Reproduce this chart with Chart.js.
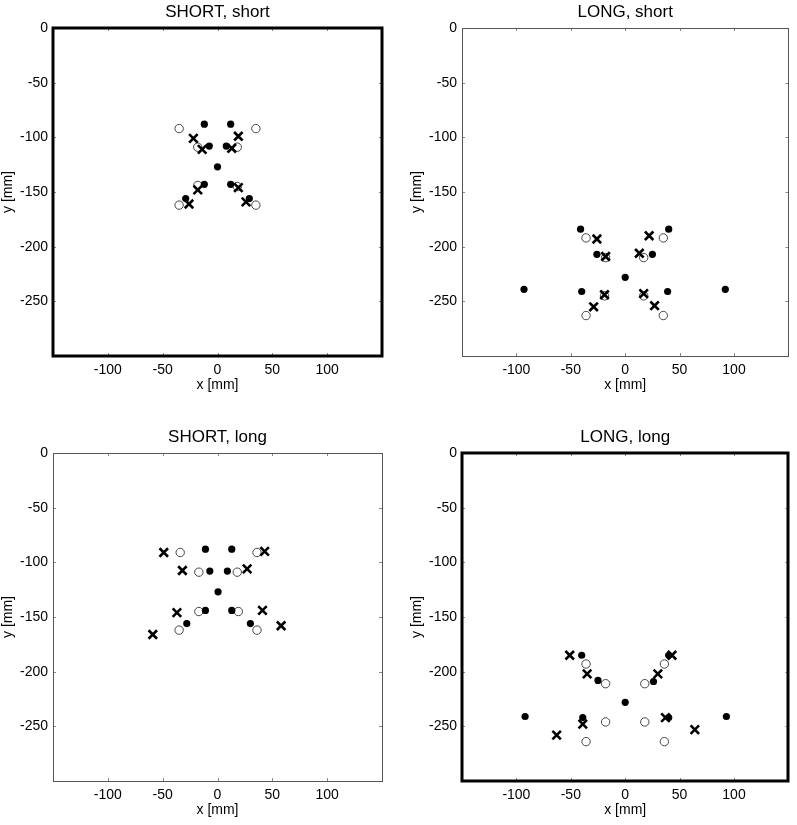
<!DOCTYPE html>
<html>
<head>
<meta charset="utf-8">
<script src="https://cdn.jsdelivr.net/npm/chart.js@4.4.1/dist/chart.umd.min.js"></script>
<style>
  html, body { margin: 0; padding: 0; background: #fff; }
  body { width: 797px; height: 825px; position: relative; overflow: hidden; }
  canvas { position: absolute; }
</style>
</head>
<body>
<canvas id="c1" width="398" height="400" style="left:0px;top:0px"></canvas>
<canvas id="c2" width="388" height="400" style="left:409px;top:0px"></canvas>
<canvas id="c3" width="398" height="400" style="left:0px;top:425px"></canvas>
<canvas id="c4" width="388" height="400" style="left:409px;top:425px"></canvas>
<script>
// ---------- Data (mm) ----------
const panelTitles = ["SHORT, short", "LONG, short", "SHORT, long", "LONG, long"];
const xTickValues = [-100, -50, 0, 50, 100];
const yTickValues = [0, -50, -100, -150, -200, -250];

// SHORT, short
const ssOpenX   = [-35, 35, -18, 18, -18, 18, -35, 35];
const ssOpenY   = [-92, -92, -109, -109, -144, -145, -162, -162];
const ssFillX   = [-12, 12, -7.5, 8, 0, -12, 12, -29, 29];
const ssFillY   = [-88, -88, -108, -108, -127, -143, -143, -156, -156];
const ssCrossX  = [-22, 19, -14, 13, -18, 19, -26, 26];
const ssCrossY  = [-101, -99, -111, -110, -148, -146, -161, -159];

// LONG, short
const lsOpenX   = [-36, 35, -18, 17, -19, 17, -36, 35];
const lsOpenY   = [-192, -192, -210, -210, -245, -245, -263, -263];
const lsFillX   = [-41, 40, -26, 25, 0, -93, -40, 39, 92];
const lsFillY   = [-184, -184, -207, -207, -228, -239, -241, -241, -239];
const lsCrossX  = [-26, 22, -18, 13, -19, 17, -29, 27];
const lsCrossY  = [-193, -190, -209, -206, -244, -243, -255, -254];

// SHORT, long
const slOpenX   = [-34, 36, -17, 18, -17, 19, -35, 36];
const slOpenY   = [-91, -91, -109, -109, -145, -145, -162, -162];
const slFillX   = [-11, 13, -7, 9, 0.5, -11, 13, -28, 30];
const slFillY   = [-88, -88, -108, -108, -127, -144, -144, -156, -156];
const slCrossX  = [-49, 43, -32, 27, -37, 41, -59, 58];
const slCrossY  = [-91, -90, -107.5, -106, -146, -144, -166, -158];

// LONG, long
const llOpenX   = [-36, 36, -18, 18, -18, 18, -36, 36];
const llOpenY   = [-193, -193, -211, -211, -246, -246, -264, -264];
const llFillX   = [-40, 40, -25, 26, 0, -92, -39, 40, 93];
const llFillY   = [-185, -185, -208, -209, -228, -241, -242, -242, -241];
const llCrossX  = [-51, 43, -35, 30, -39, 37, -63, 64];
const llCrossY  = [-185, -185, -202, -202, -248, -242, -258, -253];

// ---------- helpers ----------
function pts(xs, ys) { return xs.map((x, i) => ({ x: x, y: ys[i] })); }

const FONT = "'Liberation Sans', Arial, Helvetica, sans-serif";

const framePlugin = {
  id: 'frame',
  afterLayout(chart) {
    // centre the title over the plot area (as in the reference)
    const tb = chart.titleBlock, a = chart.chartArea;
    if (tb && a) { tb.left = a.left; tb.right = a.right; }
  },
  beforeDatasetsDraw(chart, args, opts) {
    const { ctx, chartArea: a } = chart;
    const xs = chart.scales.x, ys = chart.scales.y;
    ctx.save();
    // inner tick marks (MATLAB style)
    ctx.strokeStyle = '#888';
    ctx.lineWidth = 1;
    ctx.beginPath();
    xTickValues.forEach(v => {
      const p = Math.round(xs.getPixelForValue(v)) + 0.5;
      ctx.moveTo(p, a.bottom); ctx.lineTo(p, a.bottom - 3);
      ctx.moveTo(p, a.top); ctx.lineTo(p, a.top + 3);
    });
    yTickValues.forEach(v => {
      const p = Math.round(ys.getPixelForValue(v)) + 0.5;
      ctx.moveTo(a.left, p); ctx.lineTo(a.left + 3, p);
      ctx.moveTo(a.right, p); ctx.lineTo(a.right - 3, p);
    });
    ctx.stroke();
    // box
    ctx.strokeStyle = opts.thick ? '#000' : '#555';
    ctx.lineWidth = opts.thick ? 3 : 1;
    const o = opts.thick ? 0 : 0.5;
    ctx.strokeRect(Math.round(a.left) + o, Math.round(a.top) + o,
                   Math.round(a.right - a.left), Math.round(a.bottom - a.top));
    ctx.restore();
  }
};

function makeChart(id, title, thick, rightPad, openX, openY, fillX, fillY, crossX, crossY) {
  new Chart(document.getElementById(id), {
    type: 'scatter',
    data: {
      datasets: [
        { label: 'cross', data: pts(crossX, crossY), pointStyle: 'crossRot',
          pointRadius: 6, borderColor: '#000', borderWidth: 2.6, backgroundColor: '#000' },
        { label: 'filled', data: pts(fillX, fillY), pointStyle: 'circle',
          pointRadius: 3.6, borderColor: '#000', borderWidth: 0, backgroundColor: '#000' },
        { label: 'open', data: pts(openX, openY), pointStyle: 'circle',
          pointRadius: 4.2, borderColor: '#444', borderWidth: 1, backgroundColor: 'rgba(255,255,255,0)' }
      ]
    },
    options: {
      responsive: false,
      animation: false,
      events: [],
      layout: { padding: { left: 0, right: rightPad, top: 0, bottom: 0 } },
      plugins: {
        legend: { display: false },
        tooltip: { enabled: false },
        title: {
          display: true, text: title, color: '#000',
          font: { family: FONT, size: 17, weight: 'normal' },
          padding: { top: 2, bottom: 5.6 }
        },
        frame: { thick: thick }
      },
      scales: {
        x: {
          type: 'linear', min: -150, max: 150,
          afterFit: s => { s.height = 44; },
          grid: { display: false, drawTicks: false },
          border: { display: false },
          ticks: {
            stepSize: 50, padding: 6, color: '#000', maxRotation: 0,
            font: { family: FONT, size: 14 },
            callback: v => (xTickValues.includes(v) ? String(v) : null)
          },
          title: { display: true, text: 'x [mm]', color: '#000',
                   font: { family: FONT, size: 14 }, padding: { top: 0, bottom: 6 } }
        },
        y: {
          type: 'linear', min: -300, max: 0,
          afterFit: s => { s.width = 53; },
          grid: { display: false, drawTicks: false },
          border: { display: false },
          ticks: {
            stepSize: 50, padding: 5, color: '#000',
            font: { family: FONT, size: 14 },
            callback: v => (yTickValues.includes(v) ? String(v) : null)
          },
          title: { display: true, text: 'y [mm]', color: '#000',
                   font: { family: FONT, size: 14 }, padding: { top: 0, bottom: 0 } }
        }
      }
    },
    plugins: [framePlugin]
  });
}

makeChart('c1', panelTitles[0], true, 16, ssOpenX, ssOpenY, ssFillX, ssFillY, ssCrossX, ssCrossY);
makeChart('c2', panelTitles[1], false, 6, lsOpenX, lsOpenY, lsFillX, lsFillY, lsCrossX, lsCrossY);
makeChart('c3', panelTitles[2], false, 16, slOpenX, slOpenY, slFillX, slFillY, slCrossX, slCrossY);
makeChart('c4', panelTitles[3], true, 6, llOpenX, llOpenY, llFillX, llFillY, llCrossX, llCrossY);
</script>
</body>
</html>
